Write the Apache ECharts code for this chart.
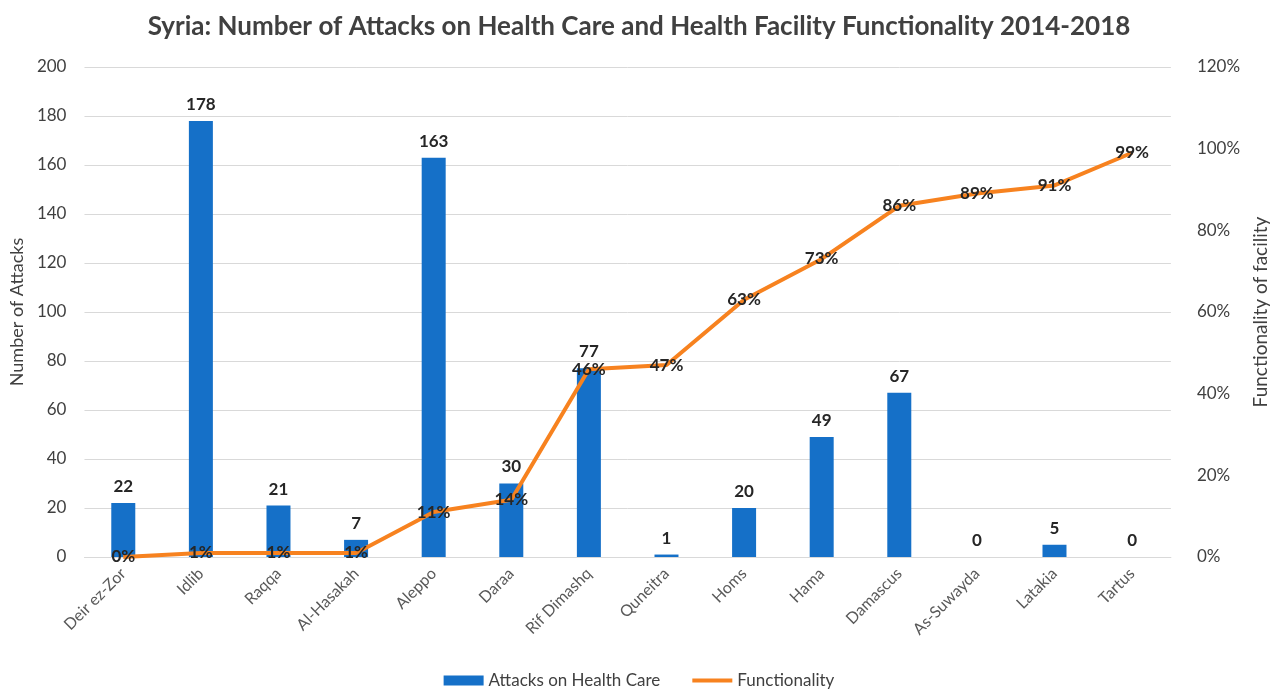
<!DOCTYPE html>
<html>
<head>
<meta charset="utf-8">
<script src="https://cdn.jsdelivr.net/npm/echarts@6/dist/echarts.min.js"></script>
<style>
  html, body { margin: 0; padding: 0; background: #fff; }
  #chart { width: 1278px; height: 694px; }
</style>
</head>
<body>
<div id="chart"></div>
<script>
const regions = ['Deir ez-Zor', 'Idlib', 'Raqqa', 'Al-Hasakah', 'Aleppo', 'Daraa', 'Rif Dimashq',
  'Quneitra', 'Homs', 'Hama', 'Damascus', 'As-Suwayda', 'Latakia', 'Tartus']
const attacks = [22, 178, 21, 7, 163, 30, 77, 1, 20, 49, 67, 0, 5, 0]
const functionality = [0, 1, 1, 1, 11, 14, 46, 47, 63, 73, 86, 89, 91, 99]

const font = 'Lato, "Open Sans", sans-serif'
const chart = echarts.init(document.getElementById('chart'))

chart.setOption({
  backgroundColor: '#fff',
  animation: false,
  textStyle: { fontFamily: font },
  title: {
    text: 'Syria: Number of Attacks on Health Care and Health Facility Functionality 2014-2018',
    left: 'center',
    top: 9,
    textStyle: { fontFamily: font, fontSize: 26, fontWeight: 'bold', color: '#404040' }
  },
  legend: {
    bottom: 0,
    left: 'center',
    itemWidth: 40,
    itemHeight: 10,
    itemGap: 32,
    textStyle: { fontFamily: font, fontSize: 17, color: '#404040' },
    data: [
      { name: 'Attacks on Health Care', icon: 'rect' },
      { name: 'Functionality', icon: 'path://M0,0 H40 V4 H0 Z' }
    ]
  },
  grid: { left: 82, right: 106, top: 67, bottom: 137 },
  xAxis: {
    type: 'category',
    data: regions,
    axisTick: { show: false },
    axisLine: { lineStyle: { color: '#d9d9d9' } },
    axisLabel: { rotate: 45, fontSize: 16, color: '#595959', margin: 14, interval: 0 }
  },
  yAxis: [
    {
      type: 'value',
      min: 0,
      max: 200,
      interval: 20,
      name: 'Number of Attacks',
      nameLocation: 'middle',
      nameGap: 54,
      nameTextStyle: { fontSize: 18, color: '#404040' },
      axisLabel: { fontSize: 17, color: '#404040', margin: 18 },
      axisLine: { show: false },
      axisTick: { show: false },
      splitLine: { lineStyle: { color: '#d9d9d9' } }
    },
    {
      type: 'value',
      min: 0,
      max: 120,
      interval: 20,
      name: 'Functionality of facility',
      nameLocation: 'middle',
      nameGap: 78,
      nameTextStyle: { fontSize: 19, color: '#404040' },
      axisLabel: { fontSize: 17, color: '#404040', margin: 26, formatter: '{value}%' },
      axisLine: { show: false },
      axisTick: { show: false },
      splitLine: { show: false }
    }
  ],
  series: [
    {
      name: 'Attacks on Health Care',
      type: 'bar',
      data: attacks,
      barWidth: 24,
      itemStyle: { color: '#1570c8' },
      label: {
        show: true,
        position: 'top',
        distance: 8,
        fontSize: 17,
        fontWeight: 'bold',
        color: '#262626'
      }
    },
    {
      name: 'Functionality',
      type: 'line',
      yAxisIndex: 1,
      data: functionality,
      symbol: 'circle',
      symbolSize: 0,
      showSymbol: true,
      lineStyle: { color: '#f7821f', width: 4 },
      itemStyle: { color: '#f7821f' },
      label: {
        show: true,
        position: 'inside',
        fontSize: 17,
        fontWeight: 'bold',
        color: '#262626',
        formatter: '{c}%'
      }
    }
  ]
})
</script>
</body>
</html>
